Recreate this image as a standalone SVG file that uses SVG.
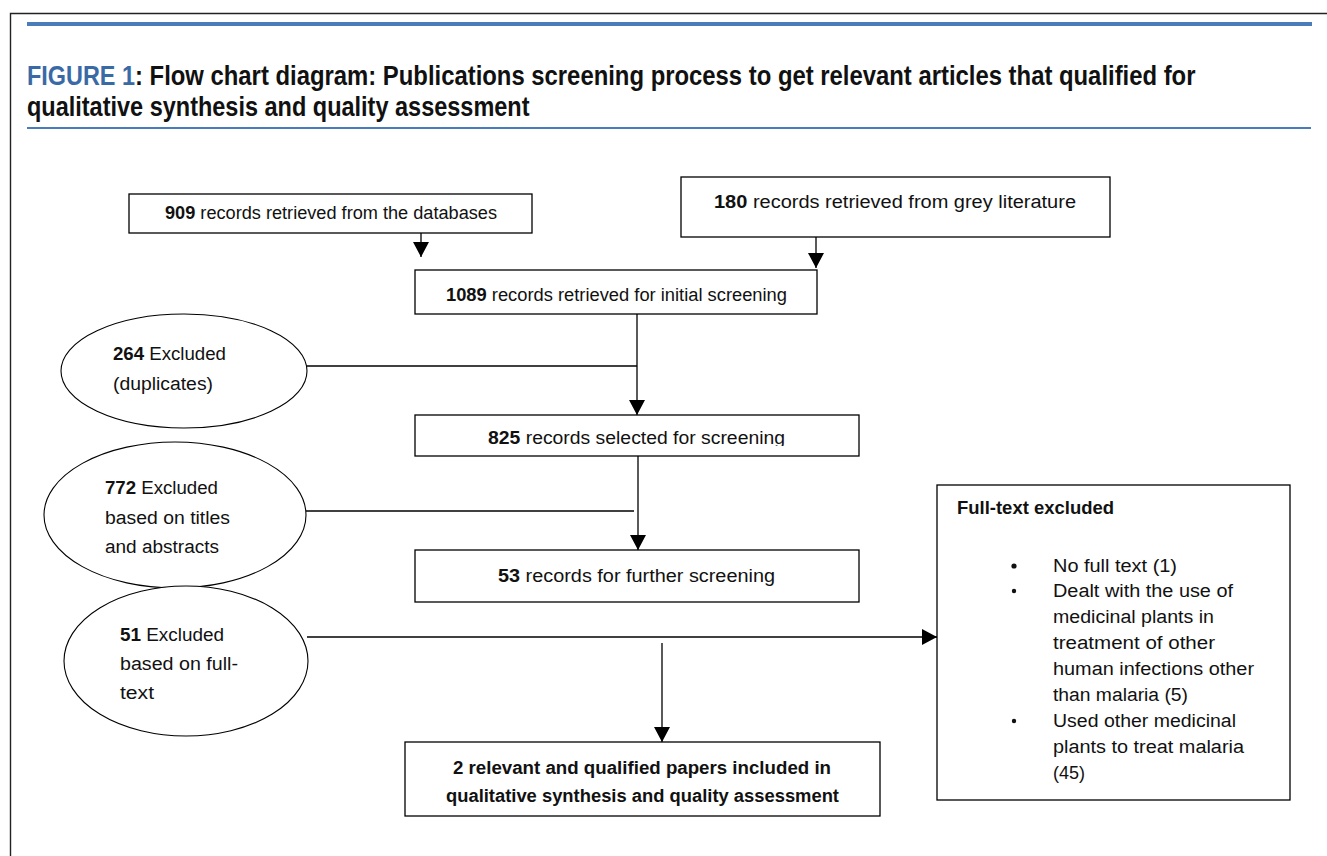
<svg xmlns="http://www.w3.org/2000/svg" width="1327" height="856" viewBox="0 0 1327 856">
  <defs>
    <marker id="arrow" markerUnits="userSpaceOnUse" markerWidth="16" markerHeight="16" refX="15" refY="8" orient="auto">
      <path d="M0,0 L15,8 L0,16 Z" fill="#000"/>
    </marker>
    <clipPath id="clipD"><rect x="415" y="415" width="444" height="31"/></clipPath>
    <clipPath id="clipG"><rect x="405" y="742" width="475" height="64"/></clipPath>
    <style>
      .frame { stroke: #222; stroke-width: 1.4; fill: none; }
      .rule { stroke: #4a7cba; fill: none; }
      .title { font-family: "Liberation Sans", Arial, sans-serif; font-weight: bold; font-size: 27px; fill: #111; }
      .fig { fill: #3a6aa6; }
      .box { fill: #fff; stroke: #000; stroke-width: 1.3; }
      .oval { fill: #fff; stroke: #000; stroke-width: 1.1; }
      .t { font-family: "Liberation Sans", Arial, sans-serif; font-size: 18px; fill: #111; }
      .b { font-weight: bold; }
      .conn { stroke: #000; stroke-width: 1.3; fill: none; }
      .arr { marker-end: url(#arrow); }
    </style>
  </defs>

  <rect width="1327" height="856" fill="#fff"/>

  <!-- page frame and header rules -->
  <path class="frame" d="M10.5,856 V13.5 H1327"/>
  <line class="rule" x1="27" y1="24" x2="1312" y2="24" stroke-width="4"/>
  <line class="rule" x1="27" y1="128" x2="1311" y2="128" stroke-width="2"/>

  <!-- caption set in a horizontally condensed face -->
  <g id="title" transform="translate(27,0) scale(0.75,1)">
    <text class="title fig" x="0" y="85" textLength="144" lengthAdjust="spacingAndGlyphs">FIGURE 1</text>
    <text class="title" x="144" y="85" textLength="1414" lengthAdjust="spacingAndGlyphs">: Flow chart diagram: Publications screening process to get relevant articles that qualified for</text>
    <text class="title" x="0" y="116" textLength="670" lengthAdjust="spacingAndGlyphs">qualitative synthesis and quality assessment</text>
  </g>

  <!-- connectors -->
  <g id="connectors">
    <line class="conn arr" x1="421" y1="233" x2="421" y2="257"/>
    <line class="conn arr" x1="816" y1="237" x2="816" y2="268"/>
    <line class="conn" x1="307" y1="366" x2="637" y2="366"/>
    <line class="conn arr" x1="637" y1="314" x2="637" y2="415"/>
    <line class="conn" x1="306" y1="511" x2="634" y2="511"/>
    <line class="conn arr" x1="638" y1="456" x2="638" y2="550"/>
    <line class="conn arr" x1="307" y1="637" x2="937" y2="637"/>
    <line class="conn arr" x1="662" y1="643" x2="662" y2="742"/>
  </g>

  <g id="databases">
    <rect class="box" x="129" y="194" width="403" height="39"/>
    <text class="t" x="165" y="219" textLength="332" lengthAdjust="spacingAndGlyphs"><tspan class="b">909</tspan> records retrieved from the databases</text>
  </g>

  <g id="grey-literature">
    <rect class="box" x="681" y="177" width="429" height="60"/>
    <text class="t" x="714" y="208" textLength="362" lengthAdjust="spacingAndGlyphs"><tspan class="b">180</tspan> records retrieved from grey literature</text>
  </g>

  <g id="initial-screening">
    <rect class="box" x="415" y="270" width="402" height="44"/>
    <text class="t" x="446" y="301" textLength="341" lengthAdjust="spacingAndGlyphs"><tspan class="b">1089</tspan> records retrieved for initial screening</text>
  </g>

  <g id="duplicates">
    <ellipse class="oval" cx="184" cy="371" rx="123" ry="57"/>
    <text class="t" x="113" y="360" textLength="113" lengthAdjust="spacingAndGlyphs"><tspan class="b">264</tspan> Excluded</text>
    <text class="t" x="113" y="390" textLength="100" lengthAdjust="spacingAndGlyphs">(duplicates)</text>
  </g>

  <g id="selected">
    <rect class="box" x="415" y="415" width="444" height="41"/>
    <text class="t" x="488" y="444" textLength="297" lengthAdjust="spacingAndGlyphs" clip-path="url(#clipD)"><tspan class="b">825</tspan> records selected for screening</text>
  </g>

  <g id="titles-abstracts">
    <ellipse class="oval" cx="175" cy="515" rx="131" ry="73"/>
    <text class="t" x="105" y="494" textLength="113" lengthAdjust="spacingAndGlyphs"><tspan class="b">772</tspan> Excluded</text>
    <text class="t" x="105" y="524" textLength="125" lengthAdjust="spacingAndGlyphs">based on titles</text>
    <text class="t" x="105" y="553" textLength="114" lengthAdjust="spacingAndGlyphs">and abstracts</text>
  </g>

  <g id="further-screening">
    <rect class="box" x="415" y="550" width="444" height="52"/>
    <text class="t" x="498" y="582" textLength="277" lengthAdjust="spacingAndGlyphs"><tspan class="b">53</tspan> records for further screening</text>
  </g>

  <g id="full-text">
    <ellipse class="oval" cx="186" cy="661" rx="122" ry="75"/>
    <text class="t" x="120" y="641" textLength="104" lengthAdjust="spacingAndGlyphs"><tspan class="b">51</tspan> Excluded</text>
    <text class="t" x="120" y="670" textLength="118" lengthAdjust="spacingAndGlyphs">based on full-</text>
    <text class="t" x="120" y="699" textLength="34" lengthAdjust="spacingAndGlyphs">text</text>
  </g>

  <g id="included">
    <rect class="box" x="405" y="742" width="475" height="74"/>
    <g clip-path="url(#clipG)">
      <text class="t b" x="453" y="774" textLength="378" lengthAdjust="spacingAndGlyphs">2 relevant and qualified papers included in</text>
      <text class="t b" x="446" y="802" textLength="393" lengthAdjust="spacingAndGlyphs">qualitative synthesis and quality assessment</text>
    </g>
  </g>

  <g id="full-text-excluded">
    <rect class="box" x="937" y="485" width="353" height="315"/>
    <text class="t b" x="957" y="514" textLength="157" lengthAdjust="spacingAndGlyphs">Full-text excluded</text>
    <circle cx="1014" cy="566" r="2.6" fill="#111"/>
    <circle cx="1014" cy="591" r="2.2" fill="#111"/>
    <circle cx="1014" cy="721" r="2.2" fill="#111"/>
    <text class="t" x="1053" y="572" textLength="124" lengthAdjust="spacingAndGlyphs">No full text (1)</text>
    <text class="t" x="1053" y="597" textLength="180" lengthAdjust="spacingAndGlyphs">Dealt with the use of</text>
    <text class="t" x="1053" y="623" textLength="161" lengthAdjust="spacingAndGlyphs">medicinal plants in</text>
    <text class="t" x="1053" y="649" textLength="162" lengthAdjust="spacingAndGlyphs">treatment of other</text>
    <text class="t" x="1053" y="675" textLength="201" lengthAdjust="spacingAndGlyphs">human infections other</text>
    <text class="t" x="1053" y="701" textLength="135" lengthAdjust="spacingAndGlyphs">than malaria (5)</text>
    <text class="t" x="1053" y="727" textLength="183" lengthAdjust="spacingAndGlyphs">Used other medicinal</text>
    <text class="t" x="1053" y="753" textLength="191" lengthAdjust="spacingAndGlyphs">plants to treat malaria</text>
    <text class="t" x="1053" y="779" textLength="32" lengthAdjust="spacingAndGlyphs">(45)</text>
  </g>
</svg>
